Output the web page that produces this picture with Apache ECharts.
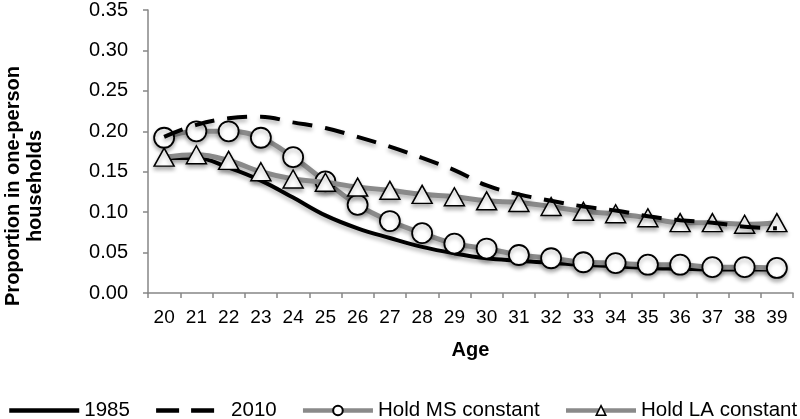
<!DOCTYPE html>
<html>
<head>
<meta charset="utf-8">
<script src="https://cdn.jsdelivr.net/npm/echarts@6/dist/echarts.min.js"></script>
<style>html,body{margin:0;padding:0;background:#fff;}#c{width:800px;height:419px;}</style>
</head>
<body>
<div id="c"></div>
<script>
var ages = ['20','21','22','23','24','25','26','27','28','29','30','31','32','33','34','35','36','37','38','39'];
var yTicks = ['0.00','0.05','0.10','0.15','0.20','0.25','0.30','0.35'];
var s1985 = [0.167,0.167,0.155,0.139,0.118,0.096,0.080,0.068,0.057,0.049,0.043,0.040,0.037,0.035,0.033,0.031,0.030,0.029,0.029,0.029];
var s2010 = [0.193,0.208,0.216,0.218,0.211,0.204,0.193,0.181,0.167,0.152,0.133,0.122,0.114,0.107,0.102,0.095,0.090,0.087,0.082,0.080];
var sMS = [0.192,0.200,0.200,0.192,0.168,0.138,0.109,0.089,0.074,0.061,0.055,0.047,0.043,0.038,0.037,0.035,0.035,0.032,0.032,0.031];
var sLA = [0.168,0.171,0.164,0.150,0.141,0.137,0.131,0.127,0.122,0.119,0.114,0.112,0.107,0.101,0.098,0.093,0.087,0.087,0.085,0.087];
var names = ['1985','2010','Hold MS constant','Hold LA constant'];

var FONT = '"Liberation Sans", Arial, sans-serif';
var AX = '#868686';
var GRAY = '#8a8a8a';
var SH = {shadowColor:'rgba(0,0,0,0.3)', shadowBlur:4, shadowOffsetY:3};

var chart = echarts.init(document.getElementById('c'), null, {renderer:'canvas'});
chart.setOption({
  animation:false,
  textStyle:{fontFamily:FONT},
  grid:{left:148, right:7, top:10, bottom:126, containLabel:false},
  legend:{
    left:7, right:0, top:400, padding:0, itemWidth:70, itemHeight:12, itemGap:24,
    textStyle:{fontSize:20.5, color:'#000', fontFamily:FONT},
    data:[
      {name:names[0], itemStyle:{opacity:0}, lineStyle:{width:4.5, color:'#000'}},
      {name:names[1], itemStyle:{opacity:0}, lineStyle:{width:4.5, color:'#000', type:[23,12]}},
      {name:names[2], itemStyle:{color:'#fff', borderColor:'#000', borderWidth:2}, lineStyle:{width:4.5, color:GRAY}},
      {name:names[3], itemStyle:{color:'#fff', borderColor:'#000', borderWidth:1.5}, lineStyle:{width:4.5, color:GRAY}}
    ]
  },
  xAxis:{
    type:'category', data:ages, boundaryGap:true,
    axisLine:{lineStyle:{color:AX, width:1.5}},
    axisTick:{show:true, length:5, lineStyle:{color:AX, width:1.5}, interval:0},
    axisLabel:{fontSize:19, color:'#000', margin:15, interval:0, fontFamily:FONT},
    name:'Age', nameLocation:'middle', nameGap:47,
    nameTextStyle:{fontSize:20, fontWeight:'bold', color:'#000', fontFamily:FONT}
  },
  yAxis:{
    type:'value', min:0, max:0.35, interval:0.05,
    axisLine:{show:true, lineStyle:{color:AX, width:1.5}},
    axisTick:{show:true, length:5, lineStyle:{color:AX, width:1.5}},
    splitLine:{show:false},
    axisLabel:{fontSize:20, color:'#000', margin:20, fontFamily:FONT,
      formatter:function(v){ return yTicks[Math.round(v/0.05)]; }}
  },
  graphic:[{
    type:'text', x:24, y:186, rotation:Math.PI/2,
    style:{text:'Proportion in one-person\nhouseholds', fontSize:20, fontWeight:'bold',
      fontFamily:FONT, fill:'#000', align:'center', verticalAlign:'middle', lineHeight:22}
  }],
  series:[
    {name:names[0], type:'line', data:s1985, smooth:0.4, showSymbol:false, symbol:'none', z:3,
      lineStyle:Object.assign({color:'#000', width:4}, SH), itemStyle:{color:'#000'}},
    {name:names[1], type:'line', data:s2010, smooth:0.4, showSymbol:false, symbol:'none', z:6,
      lineStyle:Object.assign({color:'#000', width:4, type:[20,13]}, SH), itemStyle:{color:'#000'}},
    {name:names[2], type:'line', data:sMS, smooth:0.4, symbol:'circle', symbolSize:20, z:4,
      lineStyle:Object.assign({color:GRAY, width:5}, SH),
      itemStyle:Object.assign({color:'#fff', borderColor:'#000', borderWidth:1.8}, SH)},
    {name:names[3], type:'line', data:sLA, smooth:0.4, symbol:'triangle', symbolSize:[20,18], z:5,
      lineStyle:Object.assign({color:GRAY, width:5}, SH),
      itemStyle:Object.assign({color:'#fff', borderColor:'#000', borderWidth:1.5}, SH)}
  ]
});
</script>
</body>
</html>
